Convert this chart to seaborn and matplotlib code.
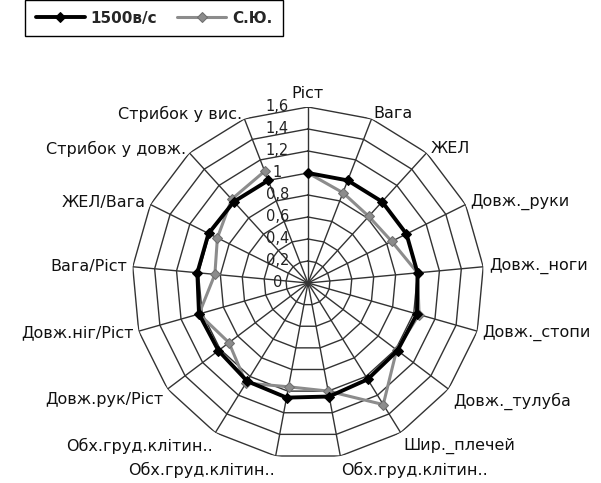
import numpy as np
import pandas as pd
import matplotlib
matplotlib.use('Agg')
import matplotlib.pyplot as plt
import matplotlib.transforms as mtransforms
import seaborn as sns

# Data
categories = ['Ріст', 'Вага', 'ЖЕЛ', 'Довж._руки', 'Довж._ноги', 'Довж._стопи',
              'Довж._тулуба', 'Шир._плечей', 'Обх.груд.клітин..', 'Обх.груд.клітин..',
              'Обх.груд.клітин..', 'Довж.рук/Ріст', 'Довж.ніг/Ріст', 'Вага/Ріст',
              'ЖЕЛ/Вага', 'Стрибок у довж.', 'Стрибок у вис.']
run_1500 = [1.0, 1.0, 1.0, 1.0, 1.0, 1.03, 1.02, 1.03, 1.05, 1.06,
            1.05, 1.02, 1.03, 1.01, 1.01, 1.0, 1.0]
athlete_su = [1.0, 0.88, 0.82, 0.85, 1.0, 1.05, 1.01, 1.30, 1.0, 0.96,
              1.07, 0.9, 1.03, 0.85, 0.92, 1.03, 1.09]
series_names = ['1500в/с', 'С.Ю.']
r_ticks = [0, 0.2, 0.4, 0.6, 0.8, 1.0, 1.2, 1.4, 1.6]
r_tick_labels = ['0', '0,2', '0,4', '0,6', '0,8', '1', '1,2', '1,4', '1,6']

sns.set_theme(style='white')
plt.rcParams['font.family'] = ['DejaVu Sans']

n = len(categories)
angles = np.arange(n) * 2 * np.pi / n
closed = np.append(angles, angles[0])

df = pd.DataFrame({
    'theta': np.concatenate([closed, closed]),
    'value': run_1500 + run_1500[:1] + athlete_su + athlete_su[:1],
    'series': [series_names[0]] * (n + 1) + [series_names[1]] * (n + 1),
})

fig = plt.figure(figsize=(6.01, 4.83), dpi=100)
ax = fig.add_axes([0.2196, 0.0497, 0.5857, 0.7288], projection='polar')
ax.set_theta_zero_location('N')
ax.set_theta_direction(-1)
ax.set_ylim(0, 1.6)
ax.grid(False)
ax.spines['polar'].set_visible(False)
ax.set_xticks([])
ax.set_yticks([])
ax.patch.set_alpha(0)

# Polygon grid, as in the spreadsheet radar chart
grid_color = '#333333'
for lvl in r_ticks[1:]:
    ax.plot(closed, [lvl] * (n + 1), color=grid_color, lw=1.0, zorder=1)
for a in angles:
    ax.plot([a, a], [0, 1.6], color=grid_color, lw=1.0, zorder=1)

# Radial labels, shifted left of the top spoke
lbl_tr = mtransforms.offset_copy(ax.transData, fig=fig, x=-22, y=0, units='points')
for r, t in zip(r_ticks, r_tick_labels):
    ax.text(0, r, t, transform=lbl_tr, ha='center', va='center', fontsize=10.5,
            color='#222222', zorder=2)

# Category labels around the outer ring
for a, name in zip(angles, categories):
    s, c = np.sin(a), np.cos(a)
    ha = 'left' if s > 0.05 else ('right' if s < -0.05 else 'center')
    va = 'bottom' if c > 0.95 else ('top' if c < -0.55 else 'center')
    tr = mtransforms.offset_copy(ax.transData, fig=fig, x=4 * s, y=4 * c, units='points')
    ax.text(a, 1.6, name, transform=tr, ha=ha, va=va, fontsize=11.5, color='#111111')

sns.lineplot(data=df[df['series'] == series_names[1]], x='theta', y='value', sort=False,
             color='#8c8c8c', lw=2.2, marker='D', markersize=5, markeredgecolor='#6e6e6e',
             ax=ax, label=series_names[1], zorder=3)
sns.lineplot(data=df[df['series'] == series_names[0]], x='theta', y='value', sort=False,
             color='black', lw=2.8, marker='D', markersize=5, markeredgecolor='black',
             ax=ax, label=series_names[0], zorder=4)
ax.set_xlabel('')
ax.set_ylabel('')

handles, labels = ax.get_legend_handles_labels()
ax.get_legend().remove()
order = [labels.index(s) for s in series_names]
fig.legend([handles[i] for i in order], [labels[i] for i in order],
           loc='upper left', bbox_to_anchor=(0.0416, 1.0), ncol=2, frameon=True,
           fancybox=False, edgecolor='black', framealpha=1, handlelength=3.2,
           handletextpad=0.4, columnspacing=1.3, borderpad=0.7, borderaxespad=0,
           prop={'weight': 'bold', 'size': 11})

fig.savefig('out.png', dpi=100)
